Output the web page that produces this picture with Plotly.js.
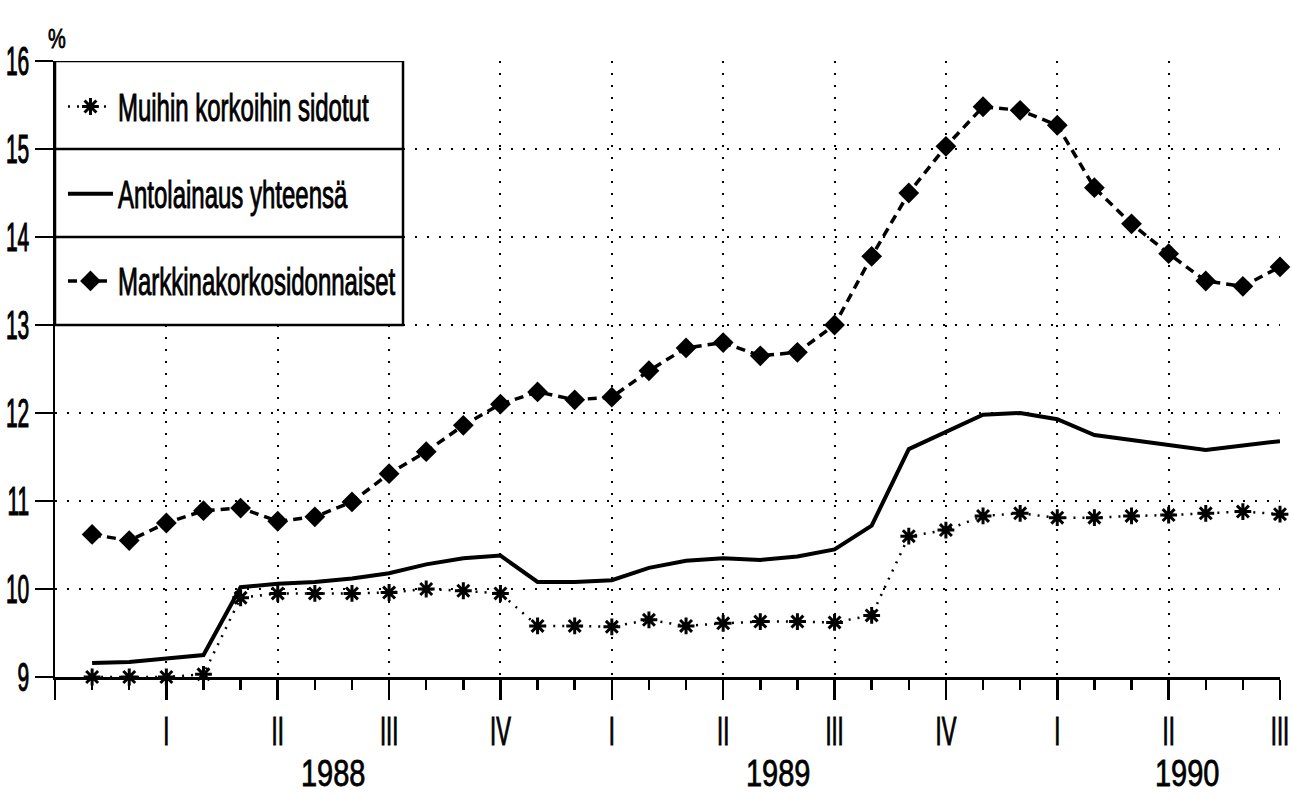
<!DOCTYPE html>
<html>
<head>
<meta charset="utf-8">
<script src="https://cdn.plot.ly/plotly-3.0.1.min.js"></script>
<style>
html,body{margin:0;padding:0;background:#ffffff;}
#chart{width:1292px;height:795px;}
</style>
</head>
<body>
<div id="chart"></div>
<script>
// Monthly observations, Jan 1988 – Sep 1990
const months = [
  '1988-01','1988-02','1988-03','1988-04','1988-05','1988-06','1988-07','1988-08','1988-09','1988-10','1988-11','1988-12',
  '1989-01','1989-02','1989-03','1989-04','1989-05','1989-06','1989-07','1989-08','1989-09','1989-10','1989-11','1989-12',
  '1990-01','1990-02','1990-03','1990-04','1990-05','1990-06','1990-07','1990-08','1990-09'
];
const seriesNames = ['Muihin korkoihin sidotut', 'Antolainaus yhteensä', 'Markkinakorkosidonnaiset'];
const muihin = [9.00, 9.00, 9.00, 9.03, 9.90, 9.95, 9.95, 9.95, 9.96, 10.00, 9.98, 9.95,
                9.58, 9.58, 9.57, 9.65, 9.58, 9.61, 9.63, 9.63, 9.62, 9.70, 10.60, 10.67,
                10.83, 10.86, 10.81, 10.81, 10.83, 10.84, 10.86, 10.88, 10.85];
const antolainaus = [9.16, 9.17, 9.21, 9.25, 10.02, 10.06, 10.08, 10.12, 10.18, 10.28, 10.35, 10.38,
                     10.08, 10.08, 10.10, 10.24, 10.32, 10.35, 10.33, 10.37, 10.45, 10.72, 11.59, 11.79,
                     11.98, 12.00, 11.93, 11.75, 11.69, 11.64, 11.58, 11.63, 11.68];
const markkina = [10.62, 10.55, 10.75, 10.89, 10.92, 10.77, 10.82, 10.99, 11.31, 11.56, 11.86, 12.10,
                  12.24, 12.15, 12.18, 12.48, 12.74, 12.80, 12.65, 12.69, 13.00, 13.78, 14.50, 15.03,
                  15.48, 15.44, 15.27, 14.56, 14.15, 13.81, 13.50, 13.44, 13.66];
const quarterLabels = ['I','II','III','IV','I','II','III','IV','I','II','III'];
const yearLabels = ['1988','1989','1990'];
const yAxisUnit = '%';

// month index positions (1..N) along the x axis
const xs = months.map((m, i) => i + 1);
// quarter ends every third month; include the axis origin as an unlabeled major tick
const tickVals = [0].concat(quarterLabels.map((q, i) => (i + 1) * 3));
const tickText = [''].concat(quarterLabels);

const FONT = 'Liberation Sans, Arial, sans-serif';
const BLACK = '#000000';

const traces = [
  {
    x: xs, y: muihin, name: seriesNames[0], type: 'scatter', mode: 'lines+markers',
    legendgroup: 'a', cliponaxis: false,
    line: {color: BLACK, width: 2.5, dash: '2px,7px'},
    marker: {symbol: 'asterisk-open', size: 14, color: BLACK, line: {color: BLACK, width: 3}}
  },
  {
    x: xs, y: antolainaus, name: seriesNames[1], type: 'scatter', mode: 'lines',
    legendgroup: 'b', cliponaxis: false,
    line: {color: BLACK, width: 4}
  },
  {
    x: xs, y: markkina, name: seriesNames[2], type: 'scatter', mode: 'lines+markers',
    legendgroup: 'c', cliponaxis: false,
    line: {color: BLACK, width: 3.5, dash: '9px,6px'},
    marker: {symbol: 'diamond', size: 16, color: BLACK}
  }
];

const legendRight = 9.375; // legend frame right edge in x units
const layout = {
  width: 1292, height: 795,
  margin: {l: 55, r: 12, t: 61, b: 118, pad: 0},
  paper_bgcolor: '#ffffff', plot_bgcolor: '#ffffff',
  font: {family: FONT, color: BLACK, size: 24},
  showlegend: true,
  legend: {
    x: 0.0065, xanchor: 'left', y: 0.962, yanchor: 'top',
    bgcolor: 'rgba(0,0,0,0)', borderwidth: 0,
    traceorder: 'grouped', tracegroupgap: 53,
    font: {family: FONT, size: 24, color: BLACK},
    itemwidth: 45
  },
  xaxis: {
    range: [0, 33], fixedrange: true,
    tickmode: 'array', tickvals: tickVals, ticktext: tickText,
    ticks: 'outside', ticklen: 20, tickwidth: 2.5, tickcolor: BLACK,
    ticklabelstandoff: 13,
    tickfont: {family: FONT, size: 22, color: BLACK},
    showline: true, linewidth: 2.5, linecolor: BLACK,
    showgrid: true, gridcolor: BLACK, gridwidth: 2, griddash: '2px,10px',
    zeroline: false,
    minor: {tickmode: 'linear', tick0: 0, dtick: 1, ticks: 'outside', ticklen: 10, tickwidth: 2.5, tickcolor: BLACK, showgrid: false}
  },
  yaxis: {
    range: [9, 16], fixedrange: true,
    tickmode: 'linear', tick0: 9, dtick: 1,
    ticks: 'outside', ticklen: 18, tickwidth: 2.5, tickcolor: BLACK,
    ticklabelstandoff: 1,
    tickfont: {family: FONT, size: 21, color: BLACK},
    showline: true, linewidth: 2.5, linecolor: BLACK,
    showgrid: true, gridcolor: BLACK, gridwidth: 2, griddash: '2px,10px',
    zeroline: false
  },
  shapes: [
    {type: 'rect', xref: 'x', yref: 'y', x0: 0, x1: legendRight, y0: 13, y1: 16,
     line: {color: BLACK, width: 2.5}, fillcolor: '#ffffff', layer: 'between'},
    {type: 'line', xref: 'x', yref: 'y', x0: 0, x1: legendRight, y0: 15, y1: 15,
     line: {color: BLACK, width: 2.5}, layer: 'between'},
    {type: 'line', xref: 'x', yref: 'y', x0: 0, x1: legendRight, y0: 14, y1: 14,
     line: {color: BLACK, width: 2.5}, layer: 'between'}
  ],
  annotations: [
    {text: yAxisUnit, xref: 'paper', yref: 'paper', x: 0, y: 1, xanchor: 'center', yanchor: 'bottom',
     xshift: 2, yshift: 10, showarrow: false, font: {family: FONT, size: 20, color: BLACK}}
  ].concat(yearLabels.map((yr, i) => ({
    text: yr, xref: 'x', yref: 'paper',
    x: [7.5, 19.5, 30.5][i], y: 0, yanchor: 'middle', xanchor: 'center',
    yshift: -96, showarrow: false,
    font: {family: FONT, size: 29, color: BLACK}
  })))
};

// stretch text vertically (tall, narrow plotter lettering of the original)
function stretchEl(t, k) {
  const b = t.getBBox();
  if (!b.width) return;
  const cx = b.x + b.width / 2, cy = b.y + b.height / 2;
  const tr = t.getAttribute('transform') || '';
  t.setAttribute('transform', tr + ' translate(' + cx + ',' + cy + ') scale(1,' + k + ') translate(' + (-cx) + ',' + (-cy) + ')');
  t.style.stroke = BLACK;
  t.style.strokeWidth = '0.6px';
}

Plotly.newPlot('chart', traces, layout, {staticPlot: true, displayModeBar: false}).then(gd => {
  gd.querySelectorAll('.ytick text').forEach(t => stretchEl(t, 1.9));
  gd.querySelectorAll('.xtick text').forEach(t => stretchEl(t, 1.85));
  gd.querySelectorAll('.legendtext').forEach(t => stretchEl(t, 1.6));
  gd.querySelectorAll('.annotation-text').forEach(t => stretchEl(t, t.textContent === yAxisUnit ? 1.4 : 1.3));
});
</script>
</body>
</html>
